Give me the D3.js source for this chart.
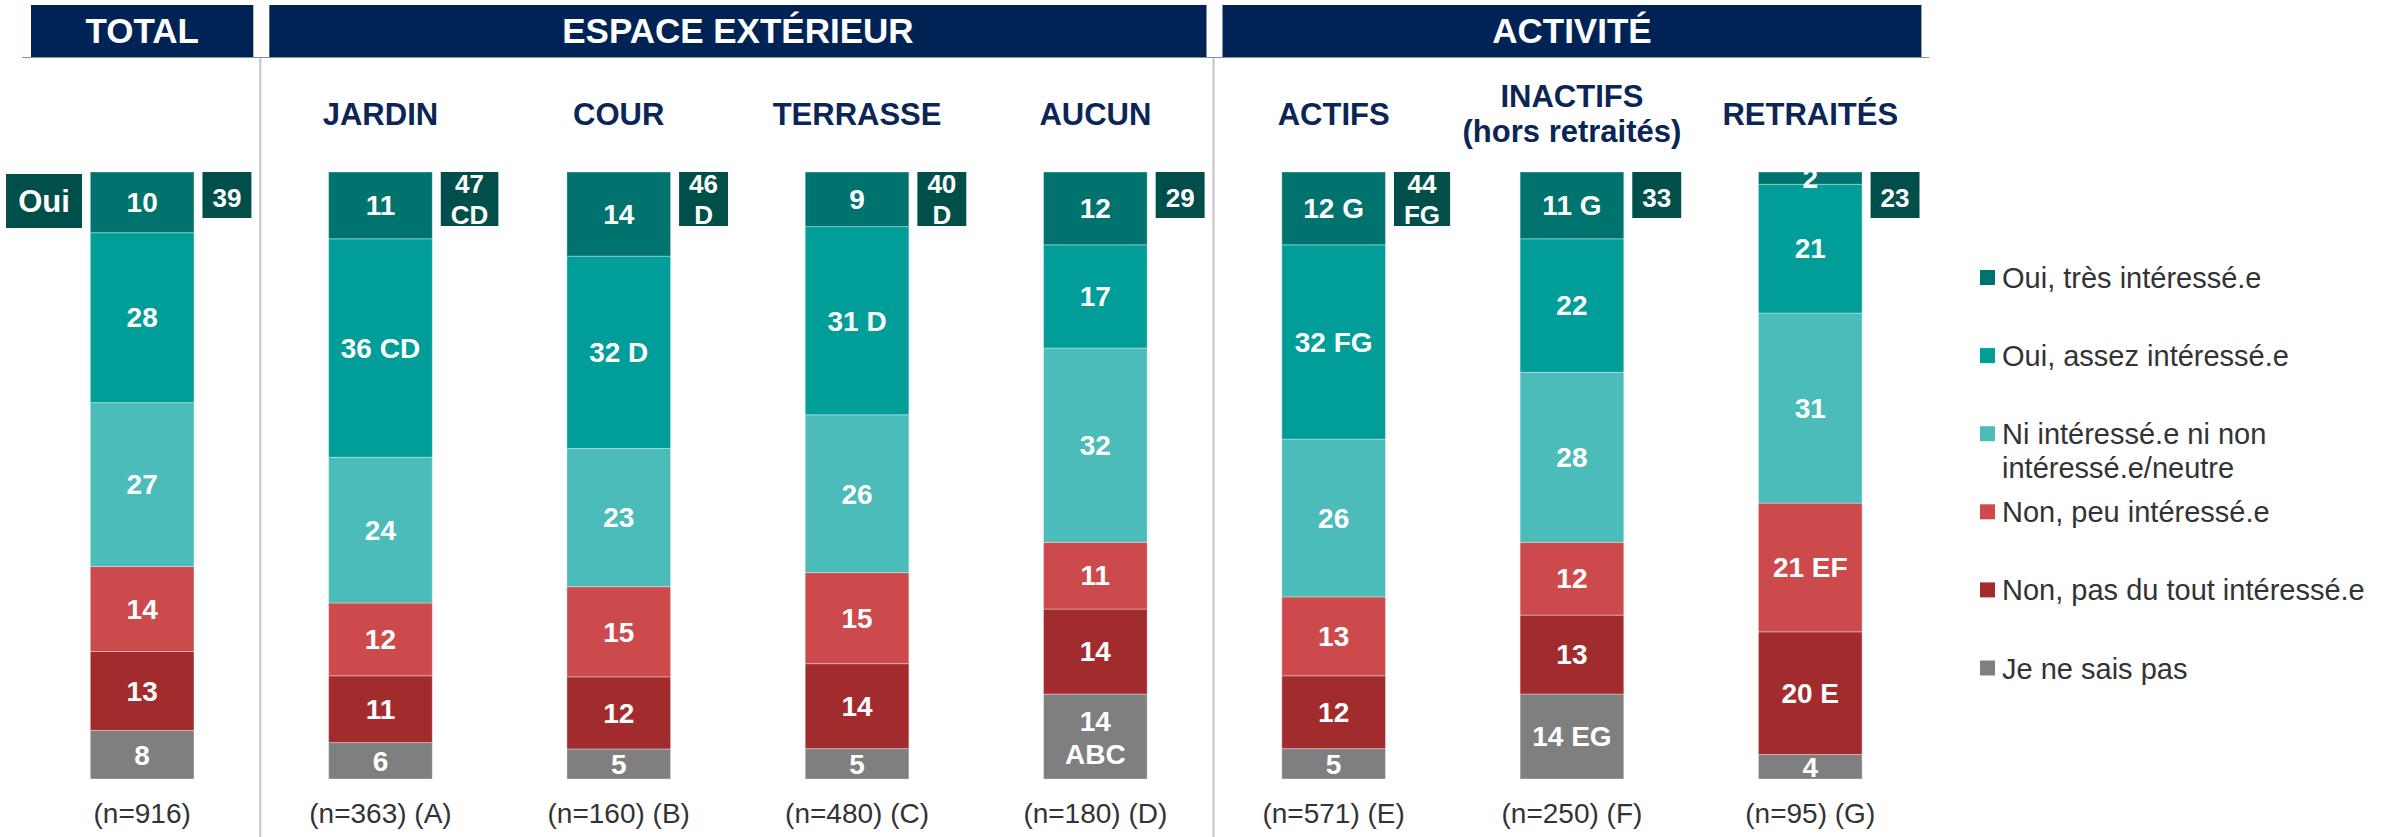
<!DOCTYPE html>
<html lang="fr">
<head>
  <meta charset="UTF-8" />
  <title>Intérêt par espace extérieur et activité</title>
  <style>
    body { margin: 0; background: #fff; }
    svg { display: block; font-family: "Liberation Sans", Arial, sans-serif; }
    .seg-label { fill: #fff; font-weight: bold; font-size: 28px; text-anchor: middle; }
    .n-label { fill: #333; font-size: 28px; text-anchor: middle; }
    .cat-label { fill: #0b2656; font-weight: bold; font-size: 31px; text-anchor: middle; }
    .legend text { fill: #333; font-size: 29px; }
  </style>
</head>
<body>
  <svg width="2395" height="837"></svg>

  <script src="https://d3js.org/d3.v7.min.js"></script>
  <script>
    // catégories (colonnes)
    const categories = ["TOTAL", "JARDIN", "COUR", "TERRASSE", "AUCUN", "ACTIFS", "INACTIFS", "RETRAITÉS"];
    const headings = ["", "JARDIN", "COUR", "TERRASSE", "AUCUN", "ACTIFS", "INACTIFS", "RETRAITÉS"];
    const subHeadings = ["", "", "", "", "", "", "(hors retraités)", ""];
    const sampleLabels = ["(n=916)", "(n=363) (A)", "(n=160) (B)", "(n=480) (C)", "(n=180) (D)", "(n=571) (E)", "(n=250) (F)", "(n=95) (G)"];

    // groupes d'en-tête
    const groupNames = ["TOTAL", "ESPACE EXTÉRIEUR", "ACTIVITÉ"];
    const groupFirst = [0, 1, 5];
    const groupLast = [0, 4, 7];

    // séries (%)
    const tresInteresse = [10, 11, 14, 9, 12, 12, 11, 2];
    const tresSig = ["", "", "", "", "", "G", "G", ""];
    const assezInteresse = [28, 36, 32, 31, 17, 32, 22, 21];
    const assezSig = ["", "CD", "D", "D", "", "FG", "", ""];
    const neutre = [27, 24, 23, 26, 32, 26, 28, 31];
    const neutreSig = ["", "", "", "", "", "", "", ""];
    const peuInteresse = [14, 12, 15, 15, 11, 13, 12, 21];
    const peuSig = ["", "", "", "", "", "", "", "EF"];
    const pasDuTout = [13, 11, 12, 14, 14, 12, 13, 20];
    const pasSig = ["", "", "", "", "", "", "", "E"];
    const nsp = [8, 6, 5, 5, 14, 5, 14, 4];
    const nspSig = ["", "", "", "", "ABC", "", "EG", ""];

    // total "Oui"
    const ouiTotal = [39, 47, 46, 40, 29, 44, 33, 23];
    const ouiSig = ["", "CD", "D", "D", "", "FG", "", ""];

    const series = [
      { key: "nsp", name: "Je ne sais pas", values: nsp, sig: nspSig, color: "#7f7f7f" },
      { key: "pas", name: "Non, pas du tout intéressé.e", values: pasDuTout, sig: pasSig, color: "#a22b2e" },
      { key: "peu", name: "Non, peu intéressé.e", values: peuInteresse, sig: peuSig, color: "#cc4a4c" },
      { key: "neutre", name: "Ni intéressé.e ni non|intéressé.e/neutre", values: neutre, sig: neutreSig, color: "#4bbcb9" },
      { key: "assez", name: "Oui, assez intéressé.e", values: assezInteresse, sig: assezSig, color: "#009d99" },
      { key: "tres", name: "Oui, très intéressé.e", values: tresInteresse, sig: tresSig, color: "#00736e" }
    ];

    const navy = "#002355";
    const darkTeal = "#014f4b";

    const rows = categories.map((c, i) => {
      let r = { cat: c, i: i };
      series.forEach(s => { r[s.key] = s.values[i]; });
      return r;
    });

    const svg = d3.select("svg");

    const x = d3.scaleBand()
      .domain(categories)
      .range([23, 1929.4])
      .paddingInner(0.565)
      .paddingOuter(0.2825);
    const y = d3.scaleLinear().domain([0, 1]).range([779, 172]);
    const color = d3.scaleOrdinal().domain(series.map(s => s.key)).range(series.map(s => s.color));

    const step = x.step(), bw = x.bandwidth();
    const cellStart = c => x(c) + bw / 2 - step / 2;
    const cx = c => x(c) + bw / 2;

    // en-têtes de groupes
    const hdr = svg.append("g");
    groupNames.forEach((g, k) => {
      const x0 = cellStart(categories[groupFirst[k]]) + 8;
      const x1 = cellStart(categories[groupLast[k]]) + step - 8;
      hdr.append("rect").attr("x", x0).attr("y", 5).attr("width", x1 - x0).attr("height", 52).attr("fill", navy);
      hdr.append("text").attr("x", (x0 + x1) / 2).attr("y", 43)
        .attr("text-anchor", "middle").attr("fill", "#fff")
        .attr("font-weight", "bold").attr("font-size", 35).text(g);
    });
    hdr.append("line").attr("x1", 22).attr("x2", 1929).attr("y1", 57.5).attr("y2", 57.5)
      .attr("stroke", "#7e8fae").attr("stroke-width", 1);

    // séparateurs verticaux
    groupFirst.slice(1).forEach(f => {
      const sx = cellStart(categories[f]) - 1;
      svg.append("line").attr("x1", sx).attr("x2", sx).attr("y1", 58).attr("y2", 837)
        .attr("stroke", "#c4c4c4").attr("stroke-width", 2);
    });

    // titres de colonnes
    svg.append("g").selectAll("text")
      .data(categories.filter((c, i) => headings[i]))
      .join("text")
      .attr("class", "cat-label")
      .attr("x", cx)
      .attr("y", c => subHeadings[categories.indexOf(c)] ? 107 : 125)
      .text(c => headings[categories.indexOf(c)]);
    categories.forEach((c, i) => {
      if (!subHeadings[i]) return;
      svg.append("text").attr("class", "cat-label").attr("font-size", 26)
        .attr("x", cx(c)).attr("y", 142).text(subHeadings[i]);
    });

    // barres empilées 100 %
    const stacked = d3.stack().keys(series.map(s => s.key)).offset(d3.stackOffsetExpand)(rows);

    const layers = svg.append("g").selectAll("g")
      .data(stacked)
      .join("g")
      .attr("fill", d => color(d.key));

    layers.selectAll("rect")
      .data(d => d)
      .join("rect")
      .attr("x", d => x(d.data.cat))
      .attr("y", d => y(d[1]))
      .attr("width", bw)
      .attr("height", d => y(d[0]) - y(d[1]))
      .attr("stroke", "rgba(255,255,255,0.35)")
      .attr("stroke-width", 1);

    // étiquettes des segments
    const labelG = svg.append("g");
    stacked.forEach((layer, li) => {
      const s = series[li];
      layer.forEach((d, i) => {
        const txt = s.values[i] + (s.sig[i] ? " " + s.sig[i] : "");
        const mid = (y(d[0]) + y(d[1])) / 2;
        const t = labelG.append("text").attr("class", "seg-label")
          .attr("x", cx(d.data.cat)).attr("y", mid).attr("dy", "0.35em").text(txt);
        if (t.node().getComputedTextLength() > bw - 12 && s.sig[i]) {
          t.text(null).attr("dy", null);
          t.append("tspan").attr("x", cx(d.data.cat)).attr("y", mid - 6).text(s.values[i]);
          t.append("tspan").attr("x", cx(d.data.cat)).attr("y", mid + 27).text(s.sig[i]);
        }
      });
    });

    // boîtes "Oui" total
    const boxG = svg.append("g");
    categories.forEach((c, i) => {
      const bx = x(c) + bw + 8.5;
      const g = boxG.append("g");
      const rect = g.append("rect").attr("fill", darkTeal);
      const lines = ouiSig[i] ? [String(ouiTotal[i]), ouiSig[i]] : [String(ouiTotal[i])];
      const texts = lines.map((l, k) => g.append("text")
        .attr("fill", "#fff").attr("font-weight", "bold").attr("font-size", 26)
        .attr("text-anchor", "middle")
        .attr("y", lines.length > 1 ? 172 + 21 + k * 31 : 172 + 35)
        .text(l));
      const maxW = d3.max(texts, t => t.node().getComputedTextLength());
      const w = Math.max(46, maxW + 20);
      const h = lines.length > 1 ? 54 : 46;
      rect.attr("x", bx).attr("y", 172).attr("width", w).attr("height", h);
      texts.forEach(t => t.attr("x", bx + w / 2));
    });

    // étiquette "Oui"
    svg.append("rect").attr("x", 6).attr("y", 174).attr("width", 76).attr("height", 54).attr("fill", darkTeal);
    svg.append("text").attr("x", 44).attr("y", 212).attr("text-anchor", "middle")
      .attr("fill", "#fff").attr("font-weight", "bold").attr("font-size", 31).text("Oui");

    // effectifs
    svg.append("g").selectAll("text")
      .data(categories)
      .join("text")
      .attr("class", "n-label")
      .attr("x", cx)
      .attr("y", 823)
      .text((c, i) => sampleLabels[i]);

    // légende
    const legendItems = series.slice().reverse();
    const legend = svg.append("g").attr("class", "legend");
    legendItems.forEach((s, i) => {
      const ly = 277.5 + i * 78.1;
      legend.append("rect").attr("x", 1980).attr("y", ly - 7.5).attr("width", 15).attr("height", 15).attr("fill", s.color);
      s.name.split("|").forEach((line, k) => {
        legend.append("text").attr("x", 2002).attr("y", ly + 10.5 + k * 34).text(line);
      });
    });
  </script>
</body>
</html>
